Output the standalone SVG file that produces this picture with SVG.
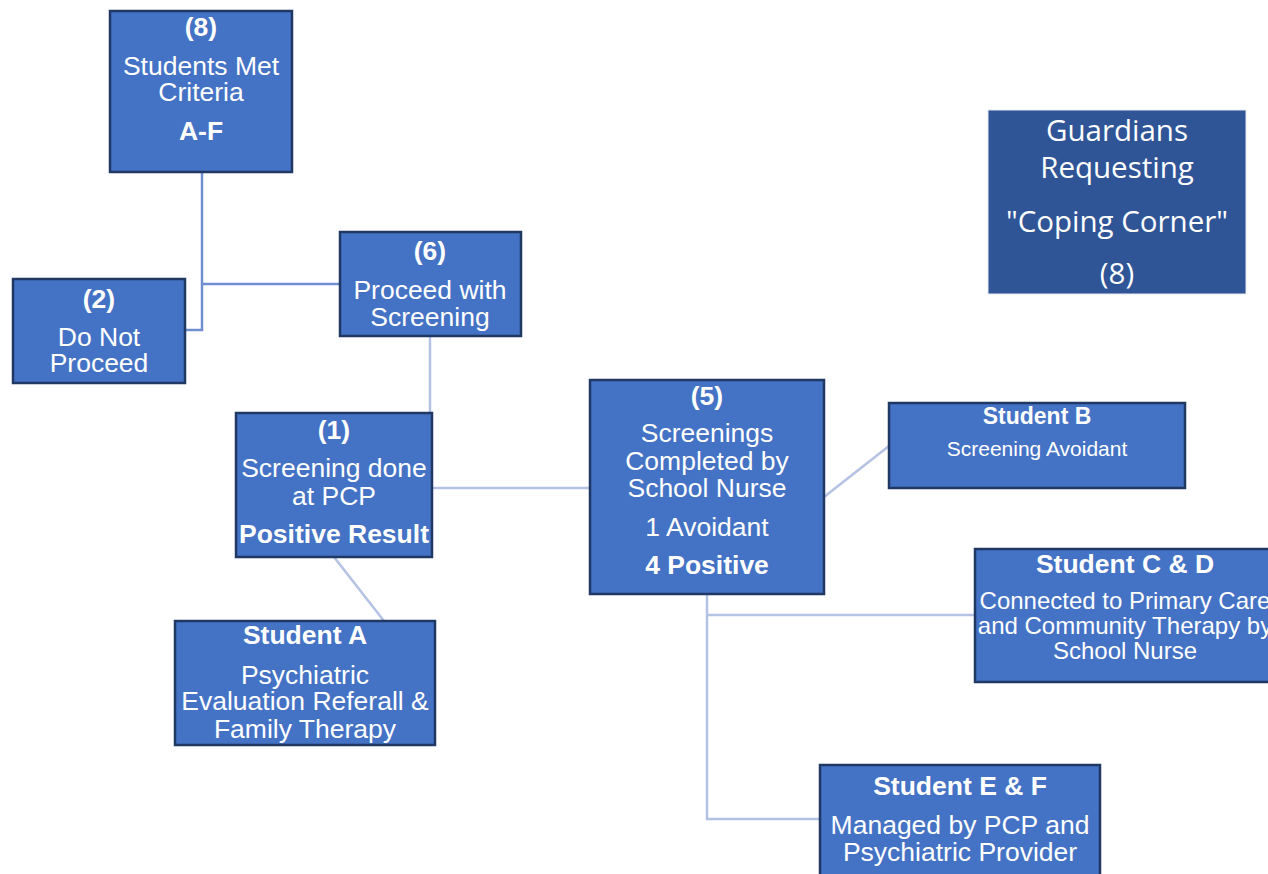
<svg xmlns="http://www.w3.org/2000/svg" width="1268" height="874" viewBox="0 0 1268 874">
<style>
.box{fill:#4472C4;stroke:#1F3864;stroke-width:2.5}
.t{font-family:"Liberation Sans",Arial,sans-serif;fill:#fff;text-anchor:middle;font-size:26.5px}
.b{font-weight:bold}
.g{font-family:"Open Sans","Noto Sans",sans-serif;fill:#fff;text-anchor:middle;font-size:29.5px}
.c1{stroke:#6F8FD1;stroke-width:2.5;fill:none}
.c2{stroke:#B4C2E3;stroke-width:2.5;fill:none}
</style>
<rect width="1268" height="874" fill="#fff"/>
<g id="connectors">
<path class="c1" d="M202 172 V330 H186"/>
<path class="c1" d="M202 284 H340"/>
<path class="c2" d="M430 336 V413"/>
<path class="c2" d="M432 488 H590"/>
<path class="c2" d="M334 557 L384 621"/>
<path class="c2" d="M824 497 L889 446"/>
<path class="c2" d="M707 594 V819 H820"/>
<path class="c2" d="M707 615 H975"/>
</g>
<g id="n8">
<rect class="box" x="110" y="11" width="182" height="161"/>
<text class="t b" x="201" y="36">(8)</text>
<text class="t" x="201" y="75">Students Met</text>
<text class="t" x="201" y="101">Criteria</text>
<text class="t b" x="201" y="140">A-F</text>
</g>
<g id="n2">
<rect class="box" x="13" y="279" width="172" height="104"/>
<text class="t b" x="99" y="308">(2)</text>
<text class="t" x="99" y="346">Do Not</text>
<text class="t" x="99" y="372">Proceed</text>
</g>
<g id="n6">
<rect class="box" x="340" y="232" width="181" height="104"/>
<text class="t b" x="430" y="260">(6)</text>
<text class="t" x="430" y="299">Proceed with</text>
<text class="t" x="430" y="326">Screening</text>
</g>
<g id="guardians">
<rect x="988" y="110" width="258" height="184" fill="#2F5597" stroke="#e6eaf2" stroke-width="1"/>
<text class="g" x="1117" y="141">Guardians</text>
<text class="g" x="1117" y="178">Requesting</text>
<text class="g" x="1117" y="232">"Coping Corner"</text>
<text class="g" x="1117" y="284">(8)</text>
</g>
<g id="n1">
<rect class="box" x="236" y="413" width="196" height="144"/>
<text class="t b" x="334" y="439">(1)</text>
<text class="t" x="334" y="477">Screening done</text>
<text class="t" x="334" y="505">at PCP</text>
<text class="t b" x="334" y="543">Positive Result</text>
</g>
<g id="n5">
<rect class="box" x="590" y="380" width="234" height="214"/>
<text class="t b" x="707" y="405">(5)</text>
<text class="t" x="707" y="442">Screenings</text>
<text class="t" x="707" y="470">Completed by</text>
<text class="t" x="707" y="497">School Nurse</text>
<text class="t" x="707" y="536">1 Avoidant</text>
<text class="t b" x="707" y="574">4 Positive</text>
</g>
<g id="studentB">
<rect class="box" x="889" y="403" width="296" height="85"/>
<text class="t b" x="1037" y="424" style="font-size:23px">Student B</text>
<text class="t" x="1037" y="456" style="font-size:21px">Screening Avoidant</text>
</g>
<g id="studentCD">
<rect class="box" x="975" y="549" width="300" height="133"/>
<text class="t b" x="1125" y="573">Student C &amp; D</text>
<text class="t" x="1125" y="609" style="font-size:24px">Connected to Primary Care</text>
<text class="t" x="1125" y="634" style="font-size:24px">and Community Therapy by</text>
<text class="t" x="1125" y="659" style="font-size:24px">School Nurse</text>
</g>
<g id="studentA">
<rect class="box" x="175" y="621" width="260" height="124"/>
<text class="t b" x="305" y="644">Student A</text>
<text class="t" x="305" y="684">Psychiatric</text>
<text class="t" x="305" y="710">Evaluation Referall &amp;</text>
<text class="t" x="305" y="738">Family Therapy</text>
</g>
<g id="studentEF">
<rect class="box" x="820" y="765" width="280" height="120"/>
<text class="t b" x="960" y="795">Student E &amp; F</text>
<text class="t" x="960" y="834">Managed by PCP and</text>
<text class="t" x="960" y="861">Psychiatric Provider</text>
</g>
</svg>
